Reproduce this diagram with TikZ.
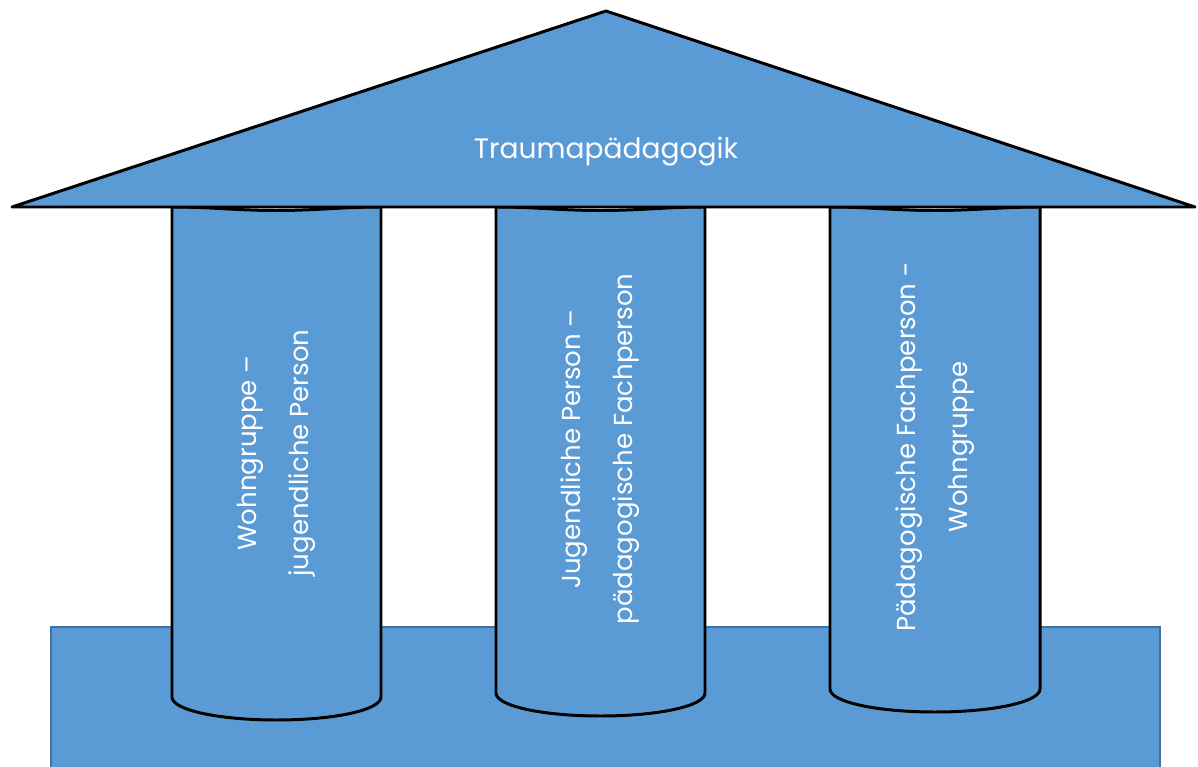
\documentclass[tikz,border=0pt]{standalone}
\usepackage{fontspec}
\setmainfont{Poppins}
\usetikzlibrary{calc}

\definecolor{tempelblau}{HTML}{5B9BD5}
\definecolor{randblau}{HTML}{41719C}

\tikzset{
  bauteil/.style={fill=tempelblau, draw=black, line width=1.7pt, line join=round},
  saeulentext/.style={rotate=90, text=white, align=center, font=\fontsize{14.8}{29.5}\selectfont},
}

% Column shape: sides, rounded foot, hidden top arc
\newcommand{\saeule}[4]{% left x, right x, foot y, name
  \draw[bauteil] (#1,207) -- (#1,#3)
    .. controls (#1,#3+13) and ({(#1+#2)/2-58},#3+23) .. ({(#1+#2)/2},#3+23)
    .. controls ({(#1+#2)/2+58},#3+23) and (#2,#3+13) .. (#2,#3)
    -- (#2,207) .. controls ({#2-40},207) and ({(#1+#2)/2+40},210.5) .. ({(#1+#2)/2},210.5)
    .. controls ({(#1+#2)/2-40},210.5) and ({#1+40},207) .. cycle;
  \coordinate (#4) at ({(#1+#2)/2},450);
}

\begin{document}
\begin{tikzpicture}[x=0.02cm, y=-0.02cm]
\useasboundingbox (0,0) rectangle (1198,767);

% First, the base
\draw[fill=tempelblau, draw=randblau, line width=0.9pt] (51,627) rectangle (1160,775);

% Then the three columns
\saeule{172}{381}{697}{s1}
\saeule{496}{705}{693}{s2}
\saeule{830}{1040}{689}{s3}

% Finally the roof, drawn over the column tops
\coordinate (giebel) at (606,11);
\coordinate (traufeL) at (12,207);
\coordinate (traufeR) at (1195,207);
\draw[bauteil] (traufeL) -- (giebel) -- (traufeR) -- cycle;
\node[text=white, font=\fontsize{16}{19}\selectfont] (dach) at (606,152) {Traumapädagogik};

% Column labels
\node[saeulentext] (text1) at ($(s1)+(0,3)$) {Wohngruppe –\\jugendliche Person};
\node[saeulentext] (text2) at ($(s2)+(0,-1)$) {Jugendliche Person –\\pädagogische Fachperson};
\node[saeulentext] (text3) at ($(s3)+(0,-3)$) {Pädagogische Fachperson -\\Wohngruppe};
\end{tikzpicture}
\end{document}
